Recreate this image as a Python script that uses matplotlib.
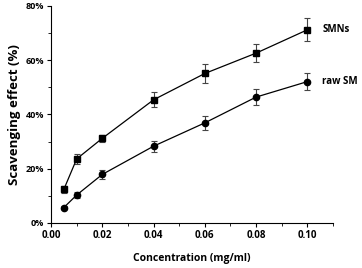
import numpy as np
import matplotlib.pyplot as plt
from matplotlib.ticker import MultipleLocator, PercentFormatter

conc = [0.005, 0.01, 0.02, 0.04, 0.06, 0.08, 0.10]
smns = [12.4, 23.6, 31.2, 45.4, 55.1, 62.6, 71.2]
smns_err = [1.2, 2.0, 1.2, 2.7, 3.4, 3.3, 4.2]
raw_sm = [5.7, 10.3, 17.9, 28.3, 36.9, 46.4, 52.1]
raw_err = [0.7, 1.0, 1.7, 2.0, 2.7, 2.8, 3.2]

plt.rcParams['font.family'] = ['Open Sans', 'DejaVu Sans']

fig = plt.figure(figsize=(3.62, 2.68), dpi=100)
ax = fig.add_axes([0.141, 0.168, 0.779, 0.81])

ax.errorbar(conc, smns, yerr=smns_err, fmt='s-', color='black', ms=4.5,
            lw=0.9, elinewidth=0.8, capsize=2.5, capthick=0.8, ecolor='#444444')
ax.errorbar(conc, raw_sm, yerr=raw_err, fmt='o-', color='black', ms=4.5,
            lw=0.9, elinewidth=0.8, capsize=2.5, capthick=0.8, ecolor='#444444')

ax.text(0.1058, smns[-1], 'SMNs', fontsize=7, fontweight='bold', va='center')
ax.text(0.1058, raw_sm[-1], 'raw SM', fontsize=7, fontweight='bold', va='center')

ax.set_xlim(0, 0.11)
ax.set_ylim(0, 80)
ax.xaxis.set_major_locator(MultipleLocator(0.02))
ax.xaxis.set_minor_locator(MultipleLocator(0.01))
ax.yaxis.set_major_locator(MultipleLocator(20))
ax.yaxis.set_minor_locator(MultipleLocator(10))
ax.yaxis.set_major_formatter(PercentFormatter(decimals=0))
ax.xaxis.set_major_formatter(plt.FormatStrFormatter('%.2f'))

ax.spines['top'].set_visible(False)
ax.spines['right'].set_visible(False)
for s in ['left', 'bottom']:
    ax.spines[s].set_linewidth(0.8)
ax.tick_params(which='major', length=3, width=0.8, labelsize=6.5, pad=2)
ax.tick_params(axis='x', labelsize=7)
ax.tick_params(which='minor', length=2, width=0.6)
for lab in ax.get_xticklabels() + ax.get_yticklabels():
    lab.set_fontweight('bold')

ax.set_xlabel('Concentration (mg/ml)', fontsize=7.5, fontweight='bold', labelpad=9)
ax.set_ylabel('Scavenging effect (%)', fontsize=9.5, fontweight='bold', labelpad=3)

fig.savefig('out.png', dpi=100)
